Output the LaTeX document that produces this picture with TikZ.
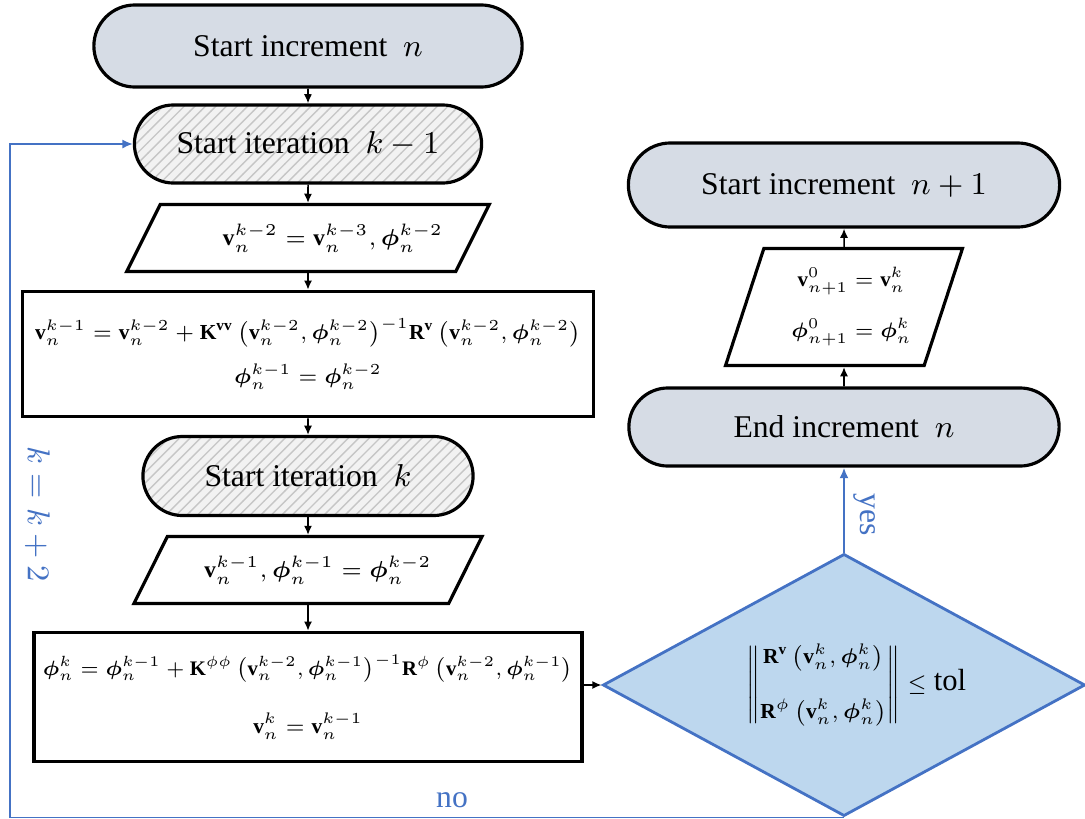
\documentclass[tikz,border=0pt]{standalone}
\usepackage{amsmath,amssymb}
\usepackage{graphicx}
\usepackage{fontspec}
\setmainfont{Liberation Serif}
\usetikzlibrary{arrows.meta,shapes,patterns,positioning}

\definecolor{termfill}{RGB}{214,220,229}
\definecolor{testfill}{RGB}{189,215,238}
\definecolor{loopblue}{RGB}{68,114,196}

\newcommand{\vb}{\mathbf{v}}
\newcommand{\phib}{\boldsymbol{\phi}}

\tikzset{
  term/.style={rounded rectangle, draw, line width=0.9pt, fill=termfill, inner sep=0pt},
  iter/.style={rounded rectangle, draw, line width=0.9pt, inner sep=0pt,
    preaction={fill=gray!10}, pattern=north east lines, pattern color=gray!45},
  io/.style={trapezium, trapezium stretches=true, draw, line width=0.9pt, fill=white, inner sep=0pt,
    font=\fontsize{7}{8.5}\selectfont},
  procbox/.style={rectangle, draw, line width=1pt, fill=white, inner sep=0pt, align=center,
    font=\fontsize{7}{8.5}\selectfont},
  test/.style={diamond, aspect=1.8, draw=loopblue, line width=0.8pt, fill=testfill, inner sep=0pt,
    font=\fontsize{7}{8.5}\selectfont},
  arr/.style={-{Latex[length=2.6pt,width=2.3pt]}, line width=0.45pt},
  barr/.style={-{Latex[length=3pt,width=2.6pt]}, line width=0.6pt, draw=loopblue},
  lbl/.style={text=loopblue, inner sep=2.5pt}
}

\begin{document}
\begin{tikzpicture}[x=0.01cm, y=-0.01cm, font=\fontsize{9}{11}\selectfont]
  \useasboundingbox (0,0) rectangle (1085,818);
  % left column
  \node[term, minimum width=4.28cm, minimum height=0.82cm] (inc) at (308,46) {Start increment \ $n$};
  \node[iter, minimum width=3.47cm, minimum height=0.78cm] (itA) at (308,144) {Start iteration \ $k-1$};
  \node[io, trapezium left angle=42.5, trapezium right angle=137.5,
    minimum width=3.63cm, minimum height=0.67cm] (setA) at (308,238)
    {\hspace*{0.5cm}\scalebox{0.94}{$\vb_n^{k-2}=\vb_n^{k-3},\phib_n^{k-2}$}};
  \node[procbox, minimum width=5.71cm, minimum height=1.25cm] (solveA) at (308,354)
    {\scalebox{0.87}{$\vb_n^{k-1}=\vb_n^{k-2}+\mathbf{K}^{\mathbf{vv}}\,\bigl(\vb_n^{k-2},\phib_n^{k-2}\bigr)^{-1}\mathbf{R}^{\mathbf{v}}\,\bigl(\vb_n^{k-2},\phib_n^{k-2}\bigr)$}\\[4pt]
     \scalebox{0.87}{$\phib_n^{k-1}=\phib_n^{k-2}$}};
  \node[iter, minimum width=3.30cm, minimum height=0.79cm] (itB) at (308,476) {Start iteration \ $k$};
  \node[io, trapezium left angle=43.7, trapezium right angle=136.3,
    minimum width=3.51cm, minimum height=0.67cm] (setB) at (308,570)
    {\hspace*{0.2cm}\scalebox{0.94}{$\vb_n^{k-1},\phib_n^{k-1}=\phib_n^{k-2}$}};
  \node[procbox, minimum width=5.48cm, minimum height=1.29cm] (solveB) at (308,697)
    {\scalebox{0.84}{$\phib_n^{k}=\phib_n^{k-1}+\mathbf{K}^{\phi\phi}\,\bigl(\vb_n^{k-2},\phib_n^{k-1}\bigr)^{-1}\mathbf{R}^{\phi}\,\bigl(\vb_n^{k-2},\phib_n^{k-1}\bigr)$}\\[8pt]
     \scalebox{0.87}{$\vb_n^{k}=\vb_n^{k-1}$}};
  % right column
  \node[test, minimum width=4.82cm, minimum height=2.62cm] (conv) at (844,685)
    {\hspace*{7pt}\scalebox{0.87}{$\left\|\begin{matrix}\mathbf{R}^{\mathbf{v}}\,\bigl(\vb_n^k,\phib_n^k\bigr)\\[9pt] \mathbf{R}^{\phi}\,\bigl(\vb_n^k,\phib_n^k\bigr)\end{matrix}\right\|\le\text{\fontsize{10}{12}\selectfont tol}$}};
  \node[term, minimum width=4.30cm, minimum height=0.78cm] (endinc) at (844,427) {End increment \ $n$};
  \node[io, trapezium left angle=67.7, trapezium right angle=112.3, align=center,
    minimum width=2.38cm, minimum height=1.17cm] (update) at (844,307)
    {\hspace*{0.15cm}\scalebox{0.85}{$\vb_{n+1}^0=\vb_n^k$}\\[6pt] \hspace*{0.15cm}\scalebox{0.85}{$\phib_{n+1}^0=\phib_n^k$}};
  \node[term, minimum width=4.31cm, minimum height=0.84cm] (nextinc) at (844,185) {Start increment \ $n+1$};
  \coordinate (loopx) at (10,0);

  % connectors
  \draw[arr] (inc) -- (itA);
  \draw[arr] (itA) -- (setA);
  \draw[arr] (setA) -- (solveA);
  \draw[arr] (solveA) -- (itB);
  \draw[arr] (itB) -- (setB);
  \draw[arr] (setB) -- (solveB);
  \draw[arr] (solveB.east |- conv.west) -- (conv.west);
  \draw[arr] (endinc) -- (update);
  \draw[arr] (update) -- (nextinc);
  \draw[barr] (conv.north) -- node[lbl, pos=0.45, rotate=-90, anchor=south] {yes} (endinc.south);
  \draw[barr, line width=0.45pt] (conv.south) -- node[lbl, pos=0.47, above] {no} (conv.south -| loopx)
    -- node[lbl, pos=0.45, rotate=-90, anchor=south, inner sep=4pt] {$k=k+2$} (loopx |- itA.west) -- (itA.west);
\end{tikzpicture}
\end{document}
